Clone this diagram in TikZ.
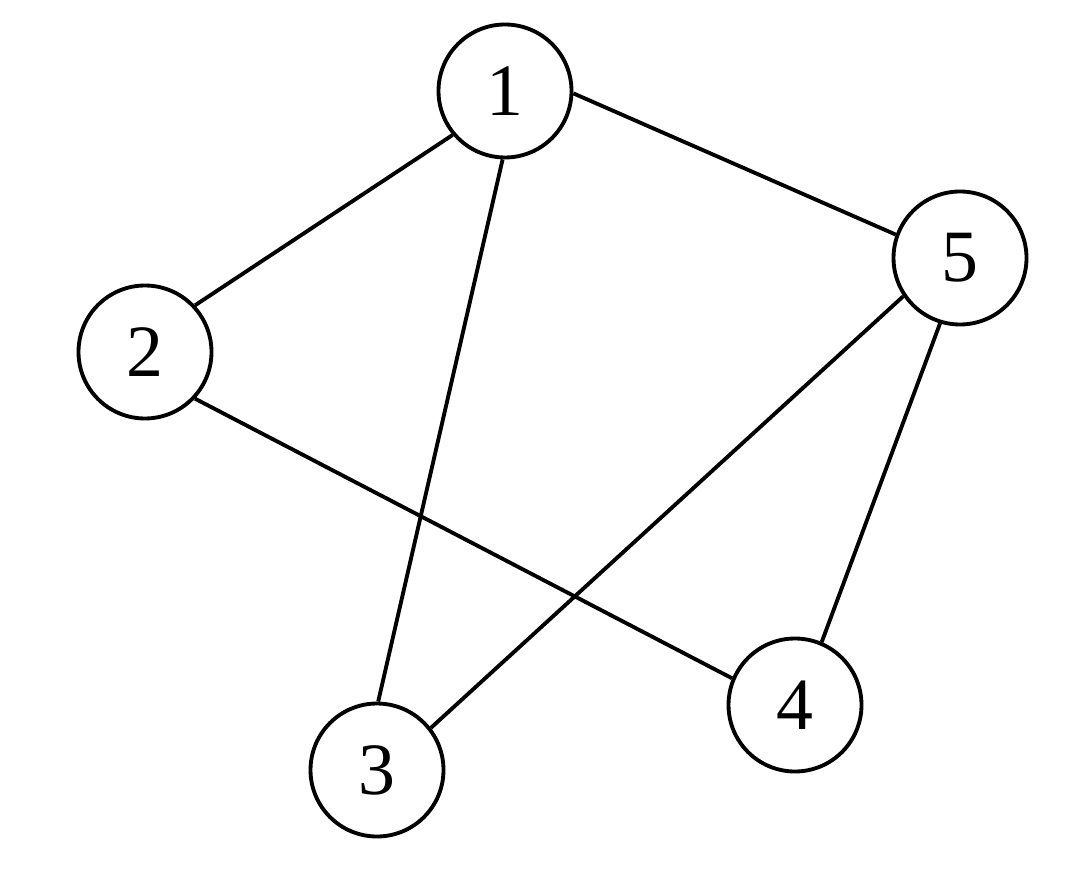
\documentclass[tikz,border=0pt]{standalone}
\usepackage{fontspec}
\setmainfont{Liberation Serif}
\usepackage{tikz}

\begin{document}
\begin{tikzpicture}
\useasboundingbox (0,0) rectangle (21.6,17.4);
\begin{scope}[every node/.style={circle,draw,line width=2.2pt,minimum size=2.66cm,inner sep=0pt,font=\fontsize{42}{48}\selectfont}]
    \node (1) at (10.1,15.58) {1};
    \node (2) at (2.9,10.36) {2};
    \node (5) at (19.2,12.24) {5};
    \node (4) at (15.9,3.3) {4};
    \node (3) at (7.54,2.0) {3};
\end{scope}
\begin{scope}[plain_edge/.style={draw=black,line width=2.2pt}]
    \path (1.220) edge [plain_edge] (2.43);
    \path (1.-2) edge [plain_edge] (5.160);
    \path (1.268) edge [plain_edge] (3.89);
    \path (2.317) edge [plain_edge] (4.157);
    \path (5.214) edge [plain_edge] (3.38);
    \path (5.253) edge [plain_edge] (4.67);
\end{scope}
\end{tikzpicture}
\end{document}
